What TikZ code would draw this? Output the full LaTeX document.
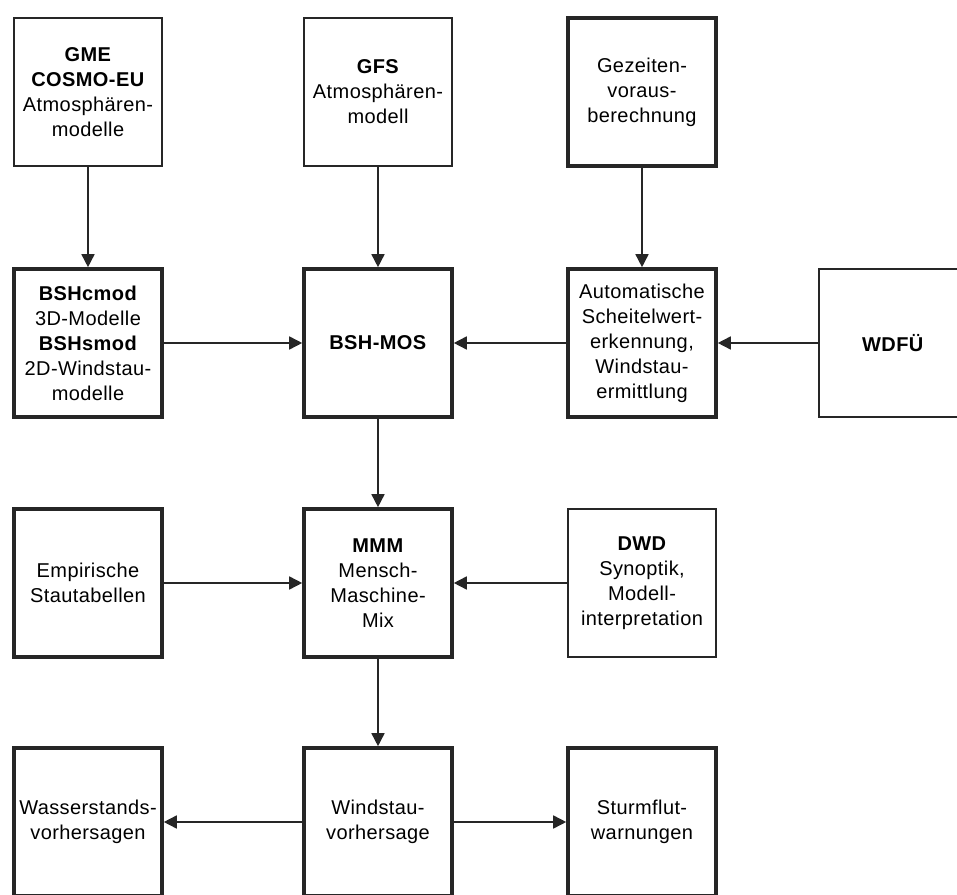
\documentclass[tikz,border=0pt]{standalone}
\usepackage{fontspec}
\setmainfont[LetterSpace=2]{Liberation Sans}
\usetikzlibrary{arrows.meta}

\tikzset{
    box/.style={draw=black!85, line width=1.8pt, minimum width=74pt, minimum height=74pt, align=center, inner sep=1pt},
    thinbox/.style={box, line width=0.9pt},
}

\begin{document}
\begin{tikzpicture}[x=0.5pt, y=0.5pt, font=\fontsize{10pt}{12.5pt}\selectfont, >={Triangle[length=6.5pt,width=6.5pt]}, line width=0.8pt, draw=black!85]
    \clip (0, 0) rectangle (957, 894);
    % inputs
    \node [thinbox] (0) at (88, 802) {\textbf{GME}\\\textbf{COSMO-EU}\\Atmosphären-\\modelle};
    \node [thinbox] (1) at (378, 802) {\textbf{GFS}\\Atmosphären-\\modell};
    \node [box] (2) at (642, 802) {Gezeiten-\\voraus-\\berechnung};
    % models
    \node [box] (3) at (88, 551) {\textbf{BSHcmod}\\3D-Modelle\\\textbf{BSHsmod}\\2D-Windstau-\\modelle};
    \node [box] (4) at (378, 551) {\textbf{BSH-MOS}};
    \node [box] (5) at (642, 551) {Automatische\\Scheitelwert-\\erkennung,\\Windstau-\\ermittlung};
    \node [thinbox] (6) at (893, 551) {\textbf{WDFÜ}};
    % mix
    \node [box] (7) at (88, 311) {Empirische\\Stautabellen};
    \node [box] (8) at (378, 311) {\textbf{MMM}\\Mensch-\\Maschine-\\Mix};
    \node [thinbox] (9) at (642, 311) {\textbf{DWD}\\Synoptik,\\Modell-\\interpretation};
    % products
    \node [box] (10) at (88, 72) {Wasserstands-\\vorhersagen};
    \node [box] (11) at (378, 72) {Windstau-\\vorhersage};
    \node [box] (12) at (642, 72) {Sturmflut-\\warnungen};
    \draw [->] (0) to (3);
    \draw [->] (1) to (4);
    \draw [->] (2) to (5);
    \draw [->] (3) to (4);
    \draw [->] (5) to (4);
    \draw [->] (6) to (5);
    \draw [->] (4) to (8);
    \draw [->] (7) to (8);
    \draw [->] (9) to (8);
    \draw [->] (8) to (11);
    \draw [->] (11) to (10);
    \draw [->] (11) to (12);
\end{tikzpicture}
\end{document}
